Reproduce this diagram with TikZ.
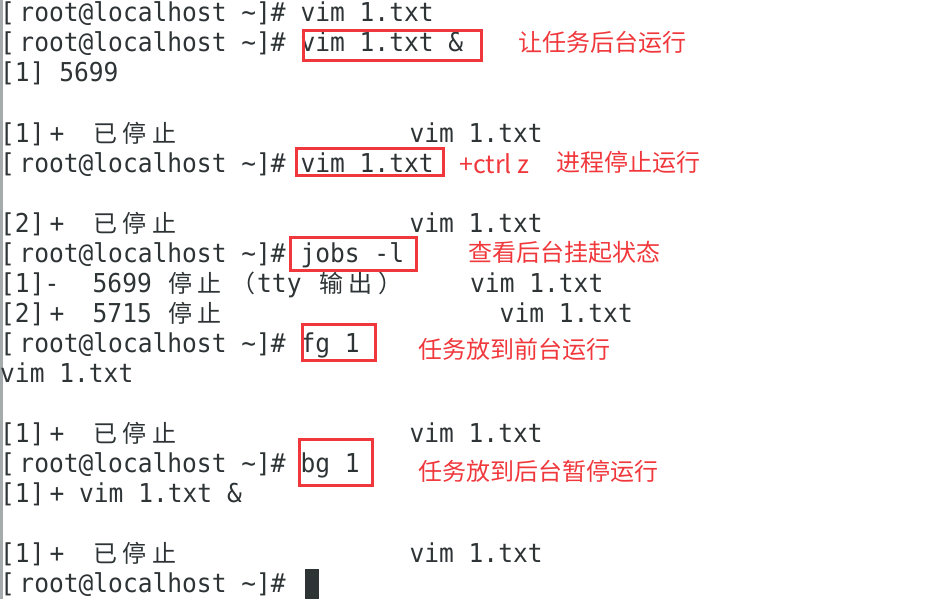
\documentclass[tikz,border=0pt]{standalone}
\usepackage{fontspec}
\newfontfamily\termfont[FakeStretch=0.945]{DejaVu Sans Mono}
\newfontfamily\zhfont{Noto Sans CJK SC}
\definecolor{termgray}{RGB}{46,52,54}
\definecolor{markred}{RGB}{240,56,60}
\definecolor{edgegray}{RGB}{165,170,172}

\newcommand*\cellwidth{29.6pt}
\newcommand*\wide[1]{\makebox[\cellwidth]{\zhfont\fontsize{24}{30}\selectfont #1}}
\newcommand*\zhpunct[1]{{\zhfont\fontsize{24}{30}\selectfont #1}}
\newcommand*\prompt{[\hspace{4.5pt}root@localhost \textasciitilde]\#}

\tikzset{
    term/.style={
        font=\termfont\fontsize{26}{30}\selectfont,
        text=termgray,
        inner sep=0pt,
        anchor=base west
    },
    note/.style={
        font=\zhfont\fontsize{24}{30}\selectfont,
        text=markred,
        inner sep=0pt,
        anchor=base west
    },
    markbox/.style 2 args={
        draw=markred,
        line width=3pt,
        inner sep=0pt,
        minimum width=#1,
        minimum height=#2
    }
}

\begin{document}
\begin{tikzpicture}[x=1pt,y=-1pt]
    \useasboundingbox (0,0) rectangle (949,599);
    \fill[edgegray] (0,0) rectangle (3,599);

    % Prompt lines, the baseline of row n is at 30n-8.
    \node[term] (l1) at (0,22) {\prompt\ vim 1.txt};
    \node[term] (l2) at (0,52) {\prompt\ vim 1.txt \&};
    \node[term] (l3) at (0,82) {[1] 5699};
    \node[term] (l6) at (0,172) {\prompt\ vim 1.txt};
    \node[term] (l9) at (0,262) {\prompt\ jobs -l};
    \node[term] (l12) at (0,352) {\prompt\ fg 1};
    \node[term] (l13) at (0,382) {vim 1.txt};
    \node[term] (l16) at (0,472) {\prompt\ bg 1};
    \node[term] (l17) at (0,502) {[1]\hspace{5pt}+ vim 1.txt \&};
    \node[term] (l20) at (0,592) {\prompt};
    \fill[termgray] (305,569) rectangle (319,599);

    % Stopped jobs.
    \foreach \row/\job in {142/1,232/2,442/1,562/1} {
        \node[term] (job\row) at (0,\row) {[\job]\hspace{5pt}+};
        \node[term] (stop\row) at (90,\row) {\wide{已}\wide{停}\wide{止}};
        \node[term] (vim\row) at (409.3,\row) {vim 1.txt};
    }

    % Output of jobs -l.
    \node[term] (l10) at (0,292) {[1]-};
    \node[term] (pid10) at (92.5,292) {5699};
    \node[term] (stop10) at (165.4,292) {\wide{停}\wide{止}\hspace{6.9pt}\zhpunct{（}\hspace{1.5pt}tty\ \wide{输}\wide{出}\hspace{3.1pt}\zhpunct{）}};
    \node[term] (vim10) at (470,292) {vim 1.txt};
    \node[term] (l11) at (0,322) {[2]\hspace{5pt}+};
    \node[term] (pid11) at (92.5,322) {5715};
    \node[term] (stop11) at (165.4,322) {\wide{停}\wide{止}};
    \node[term] (vim11) at (499.5,322) {vim 1.txt};

    % Red marks round the commands.
    \node[markbox={178pt}{30pt}] (box2) at (392.5,45.5) {};
    \node[markbox={147pt}{27pt}] (box6) at (370,162) {};
    \node[markbox={126pt}{33pt}] (box9) at (353.5,254) {};
    \node[markbox={73pt}{36pt}] (box12) at (339,342.5) {};
    \node[markbox={73pt}{46pt}] (box16) at (336,462.5) {};

    % Notes.
    \node[note] (note2) at (518,51.3) {让任务后台运行};
    \node[note, font=\zhfont\fontsize{25}{30}\selectfont] (ctrl6) at (459,173) {+ctrl z};
    \node[note] (note6) at (556,171) {进程停止运行};
    \node[note] (note9) at (468,261) {查看后台挂起状态};
    \node[note] (note12) at (418,358) {任务放到前台运行};
    \node[note] (note16) at (418,480) {任务放到后台暂停运行};
\end{tikzpicture}
\end{document}
